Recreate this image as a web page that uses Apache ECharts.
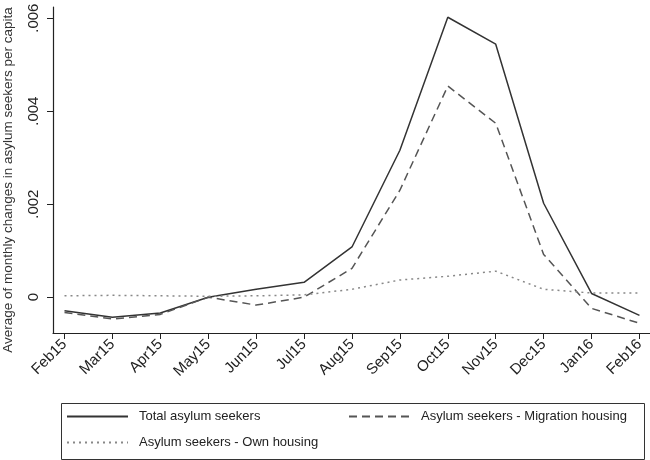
<!DOCTYPE html>
<html>
<head>
<meta charset="utf-8">
<script src="https://cdn.jsdelivr.net/npm/echarts@6/dist/echarts.min.js"></script>
<style>html,body{margin:0;padding:0;background:#fff}#c{width:650px;height:460px}</style>
</head>
<body>
<div id="c"></div>
<script>
var months = ['Feb15','Mar15','Apr15','May15','Jun15','Jul15','Aug15','Sep15','Oct15','Nov15','Dec15','Jan16','Feb16'];
var totalSeekers = [-0.00029, -0.00043, -0.00034, 0.00000, 0.00017, 0.00032, 0.00108, 0.00316, 0.00602, 0.00544, 0.00202, 0.00008, -0.00039];
var migrationHousing = [-0.00033, -0.00047, -0.00037, 0.00000, -0.00017, 0.00000, 0.00062, 0.00230, 0.00454, 0.00374, 0.00092, -0.00024, -0.00056];
var ownHousing = [0.00003, 0.00004, 0.00003, 0.00002, 0.00003, 0.00005, 0.00017, 0.00037, 0.00045, 0.00056, 0.00017, 0.00009, 0.00009];
var yTickValues = [0, 0.002, 0.004, 0.006];
var yTickLabels = ['0', '.002', '.004', '.006'];
var seriesNames = ['Total asylum seekers', 'Asylum seekers - Migration housing', 'Asylum seekers - Own housing'];

function pairs(arr){ return arr.map(function(v,i){ return [i, v]; }); }
var xIdx = months.map(function(m,i){ return i; });

var chart = echarts.init(document.getElementById('c'), null, {renderer:'canvas'});
var font = 'Liberation Sans, Arial, sans-serif';
var legendCommon = {
  itemWidth: 61, itemHeight: 12,
  itemStyle: {opacity: 0},
  textStyle: {fontFamily: font, fontSize: 13, color: '#222', padding: [0,0,0,6]},
  selectedMode: false, padding: 0
};
chart.setOption({
  animation: false,
  backgroundColor: '#fff',
  grid: {left: 53, right: 0, top: 7, bottom: 127, containLabel: false, outerBoundsMode: 'none'},
  xAxis: {
    type: 'value', min: -0.24, max: 12.22,
    axisLine: {show: true, onZero: false, lineStyle: {color: '#222', width: 1.2}},
    axisTick: {show: true, length: 6, lineStyle: {color: '#222'}, customValues: xIdx},
    axisLabel: {customValues: xIdx, rotate: 45, margin: 9, fontFamily: font, fontSize: 15, color: '#222',
      formatter: function(v){ return months[Math.round(v)]; }},
    splitLine: {show: false}
  },
  yAxis: {
    type: 'value', min: -0.00077, max: 0.00624,
    name: 'Average of monthly changes in asylum seekers per capita',
    nameLocation: 'middle', nameGap: 38,
    nameTextStyle: {fontFamily: font, fontSize: 13.5, color: '#333', padding: [0, 20, 0, 0]},
    axisLine: {show: true, onZero: false, lineStyle: {color: '#222', width: 1.2}},
    axisTick: {show: true, length: 6, lineStyle: {color: '#222'}, customValues: yTickValues},
    axisLabel: {customValues: yTickValues, rotate: 90, margin: 12, fontFamily: font, fontSize: 15, color: '#222',
      formatter: function(v){ var i = -1; for (var k=0;k<yTickValues.length;k++){ if (Math.abs(yTickValues[k]-v)<1e-9) i=k; } return yTickLabels[i]; }},
    splitLine: {show: false}
  },
  legend: [
    Object.assign({}, legendCommon, {data: [seriesNames[0]], left: 66, top: 410}),
    Object.assign({}, legendCommon, {data: [seriesNames[1]], left: 348, top: 410}),
    Object.assign({}, legendCommon, {data: [seriesNames[2]], left: 66, top: 436})
  ],
  graphic: [{
    type: 'rect', left: 59, top: 401, shape: {width: 583, height: 56},
    style: {fill: 'none', stroke: '#333', lineWidth: 1}
  }],
  series: [
    {name: seriesNames[0], type: 'line', data: pairs(totalSeekers), symbol: 'none',
     lineStyle: {color: '#333', width: 1.5, type: 'solid'}, itemStyle: {color: '#333'}},
    {name: seriesNames[1], type: 'line', data: pairs(migrationHousing), symbol: 'none',
     lineStyle: {color: '#555', width: 1.5, type: [8, 5]}, itemStyle: {color: '#555'}},
    {name: seriesNames[2], type: 'line', data: pairs(ownHousing), symbol: 'none',
     lineStyle: {color: '#888', width: 1.5, type: [2, 4]}, itemStyle: {color: '#888'}}
  ]
});
</script>
</body>
</html>
